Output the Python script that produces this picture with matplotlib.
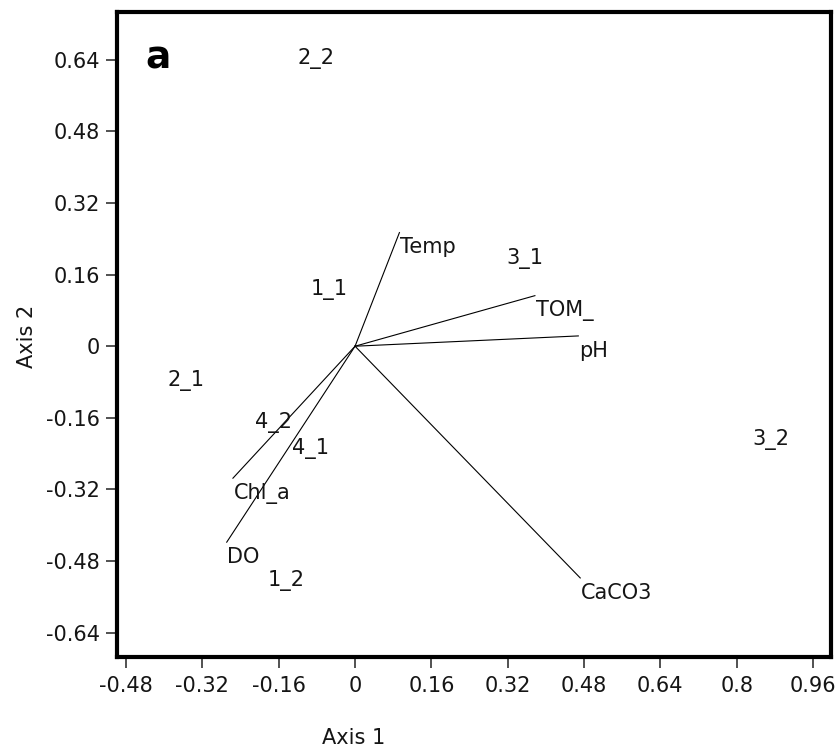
import matplotlib
matplotlib.use("Agg")
import matplotlib.pyplot as plt

plt.rcParams['font.family'] = ['DejaVu Sans']
plt.rcParams['axes.unicode_minus'] = False

# site scores (axis 1, axis 2)
sites = ['2_2', '1_1', '3_1', '2_1', '4_2', '4_1', '1_2', '3_2']
site_x = [-0.123, -0.095, 0.315, -0.394, -0.211, -0.134, -0.184, 0.831]
site_y = [0.676, 0.161, 0.229, -0.044, -0.137, -0.195, -0.491, -0.175]

# environmental variable vectors
variables = ['Temp', 'TOM_', 'pH', 'CaCO3', 'Chl_a', 'DO']
var_x = [0.093, 0.377, 0.468, 0.472, -0.256, -0.269]
var_y = [0.254, 0.113, 0.023, -0.518, -0.295, -0.438]

xticks = [-0.48, -0.32, -0.16, 0, 0.16, 0.32, 0.48, 0.64, 0.8, 0.96]
yticks = [-0.64, -0.48, -0.32, -0.16, 0, 0.16, 0.32, 0.48, 0.64]

txt_color = '#151515'
fs = 15

fig = plt.figure(figsize=(8.4, 7.47), dpi=100)
ax = fig.add_axes([0.1393, 0.1209, 0.8496, 0.8624])

for name, vx, vy in zip(variables, var_x, var_y):
    ax.plot([0, vx], [0, vy], color='black', lw=0.8)
    ax.annotate(name, (vx, vy), xytext=(0.5, -3.3), textcoords='offset points',
                ha='left', va='top', fontsize=fs, color=txt_color)

for name, sx, sy in zip(sites, site_x, site_y):
    ax.annotate(name, (sx, sy), xytext=(0.5, -3.3), textcoords='offset points',
                ha='left', va='top', fontsize=fs, color=txt_color)

ax.set_xlim(-0.499, 0.997)
ax.set_ylim(-0.694, 0.746)
ax.set_xticks(xticks)
ax.set_yticks(yticks)
ax.set_xticklabels(['{:g}'.format(v) for v in xticks])
ax.set_yticklabels(['{:g}'.format(v) for v in yticks])
ax.tick_params(direction='out', length=8, width=1.1, color='#222222',
               labelsize=fs, labelcolor=txt_color)
ax.tick_params(axis='x', pad=5.8)
ax.tick_params(axis='y', pad=4.2)

for sp in ax.spines.values():
    sp.set_linewidth(3)
    sp.set_color('black')

ax.set_xlabel('Axis 1', fontsize=fs, color=txt_color)
ax.set_ylabel('Axis 2', fontsize=fs, color=txt_color)
ax.xaxis.set_label_coords(0.332, -0.1102)
ax.yaxis.set_label_coords(-0.1127, 0.497)

ax.text(0.0392, 0.9134, 'a', transform=ax.transAxes, fontsize=27,
        fontweight='bold', ha='left', va='baseline', color='black')

fig.savefig('out.png', dpi=100)
